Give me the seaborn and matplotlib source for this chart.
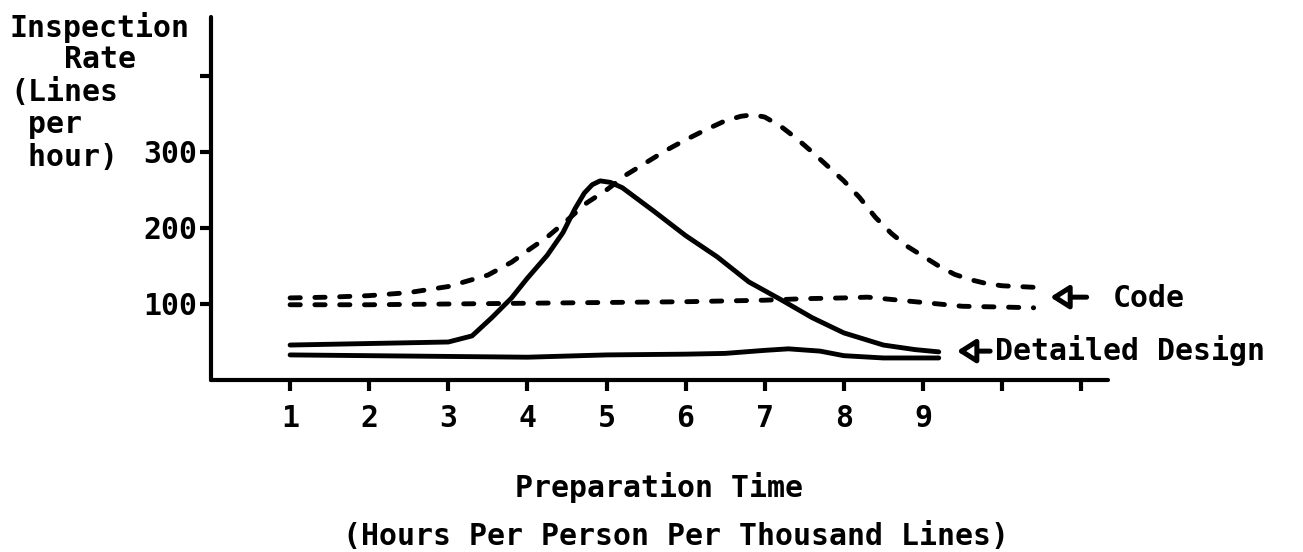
import seaborn as sns
import pandas as pd
import matplotlib
matplotlib.use('Agg')
import matplotlib.pyplot as plt

# values
code_hi_x = [1.0, 1.5, 2.0, 2.5, 3.0, 3.5, 3.8, 4.0, 4.25, 4.5, 4.75, 5.0, 5.25, 5.5, 5.75,
             6.0, 6.25, 6.5, 6.7, 6.85, 7.0, 7.2, 7.4, 7.6, 7.8, 8.0, 8.2, 8.4, 8.6, 8.8,
             9.0, 9.2, 9.4, 9.6, 9.8, 10.0, 10.2, 10.4]
code_hi_y = [108, 109, 111, 115, 123, 138, 155, 170, 188, 210, 233, 250, 270, 286, 302,
             316, 329, 341, 347, 349, 346, 334, 318, 300, 281, 262, 240, 214, 193, 176,
             163, 150, 139, 132, 127, 124, 123, 122]

code_lo_x = [1.0, 2.0, 3.0, 4.0, 5.0, 6.0, 7.0, 7.5, 8.0, 8.3, 8.6, 9.0, 9.5, 10.0, 10.4]
code_lo_y = [99, 99, 100, 101, 102, 103, 105, 107, 108, 109, 106, 102, 97, 96, 95]

design_hi_x = [1.0, 2.0, 3.0, 3.3, 3.55, 3.8, 4.0, 4.25, 4.45, 4.6, 4.72, 4.82, 4.92, 5.05,
               5.2, 5.6, 6.0, 6.4, 6.8, 7.2, 7.6, 8.0, 8.5, 8.9, 9.2]
design_hi_y = [46, 48, 50, 58, 82, 108, 134, 164, 194, 225, 246, 257, 262, 260,
               253, 222, 190, 162, 129, 106, 82, 62, 46, 40, 37]

design_lo_x = [1.0, 2.0, 3.0, 4.0, 5.0, 6.0, 6.5, 7.0, 7.3, 7.7, 8.0, 8.5, 9.0, 9.2]
design_lo_y = [33, 32, 31, 30, 33, 34, 35, 39, 41, 38, 32, 29, 29, 29]

x_ticks = [1, 2, 3, 4, 5, 6, 7, 8, 9, 10, 11]
x_tick_labels = ["1", "2", "3", "4", "5", "6", "7", "8", "9", "", ""]
y_ticks = [100, 200, 300, 400]
y_tick_labels = ["100", "200", "300", ""]
y_title_lines = ["Inspection", "   Rate", "(Lines", " per", " hour)"]

curves = {
    "code_hi": (code_hi_x, code_hi_y),
    "code_lo": (code_lo_x, code_lo_y),
    "design_hi": (design_hi_x, design_hi_y),
    "design_lo": (design_lo_x, design_lo_y),
}
df = pd.concat(
    [pd.DataFrame({"prep": xs, "rate": ys, "curve": name}) for name, (xs, ys) in curves.items()],
    ignore_index=True,
)

sns.set_style("ticks")
plt.rcParams['font.family'] = ['DejaVu Sans Mono', 'DejaVu Sans']
plt.rcParams['font.weight'] = 'bold'
plt.rcParams['text.color'] = 'black'
plt.rcParams['xtick.color'] = 'black'
plt.rcParams['ytick.color'] = 'black'
FS = 21.5

fig = plt.figure(figsize=(13.03, 5.52), dpi=100)
ax = fig.add_axes([211 / 1303, 172 / 552, 897 / 1303, 363 / 552])

dash = (2.1, 3.0)
sns.lineplot(
    data=df, x="prep", y="rate", hue="curve", style="curve",
    palette={k: "black" for k in curves},
    dashes={"code_hi": dash, "code_lo": dash, "design_hi": "", "design_lo": ""},
    estimator=None, sort=True, lw=3.5, legend=False, ax=ax,
)
for line in ax.lines:
    line.set_dash_capstyle('round')
    line.set_solid_capstyle('round')
    line.set_solid_joinstyle('round')

ax.set_xlim(0, 11.34)
ax.set_ylim(0, 477.6)
ax.set_xticks(x_ticks)
ax.set_xticklabels(x_tick_labels, fontsize=FS, fontweight='bold', color='black')
ax.set_yticks(y_ticks)
ax.set_yticklabels(y_tick_labels, fontsize=FS, fontweight='bold', color='black')
ax.tick_params(axis='x', length=8, width=3, pad=9, color='black')
ax.tick_params(axis='y', length=8, width=3, pad=2, color='black')
ax.set_xlabel("")
ax.set_ylabel("")
sns.despine(ax=ax)
for side in ("left", "bottom"):
    ax.spines[side].set_linewidth(3)
    ax.spines[side].set_color('black')
    ax.spines[side].set_capstyle('round')

arrow = dict(arrowstyle='-|>,head_length=1.1,head_width=0.7', fc='white', ec='black',
             lw=3.6, shrinkA=0, shrinkB=0, joinstyle='round')
ax.annotate("", xy=(10.61, 109), xytext=(11.07, 109), arrowprops=arrow, annotation_clip=False)
ax.text(11.40, 107, "Code", fontsize=FS, fontweight='bold', va='center', ha='left', clip_on=False)
ax.annotate("", xy=(9.43, 38), xytext=(9.85, 38), arrowprops=arrow, annotation_clip=False)
ax.text(9.91, 39, "Detailed Design", fontsize=FS, fontweight='bold', va='center', ha='left',
        clip_on=False)

# y title as separate typewritten lines
baselines = [37, 68, 101, 133, 166]
for txt, by in zip(y_title_lines, baselines):
    fig.text(10 / 1303, 1 - by / 552, txt, fontsize=FS, fontweight='bold',
             ha='left', va='baseline')

fig.text(515 / 1303, 1 - 497 / 552, "Preparation Time", fontsize=FS, fontweight='bold',
         ha='left', va='baseline')
fig.text(343 / 1303, 1 - 545 / 552, "(Hours Per Person Per Thousand Lines)", fontsize=FS,
         fontweight='bold', ha='left', va='baseline')

fig.savefig("out.png", dpi=100, facecolor='white')
